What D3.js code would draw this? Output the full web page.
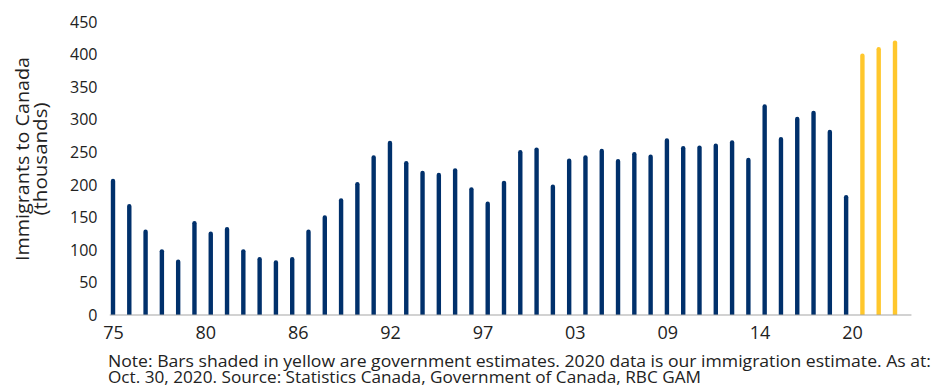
<!DOCTYPE html>
<html>
<head>
<meta charset="utf-8">
<script src="https://cdn.jsdelivr.net/npm/d3@7"></script>
<style>
  html, body { margin: 0; padding: 0; background: #fff; }
  svg { display: block; }
  text { font-family: "Open Sans", "Noto Sans", sans-serif; fill: #222; }
</style>
</head>
<body>
<svg id="chart" width="946" height="388"></svg>
<script>
// Annual immigrants to Canada, thousands (1975-2023; last three are government plan levels)
const years = d3.range(1975, 2024);
const immigrants = [
  209, 170, 131, 101, 85, 144, 128, 135, 101, 89,
  84, 89, 131, 153, 179, 204, 245, 267, 236, 221,
  218, 225, 196, 174, 206, 253, 257, 200, 240, 245,
  255, 239, 250, 246, 271, 259, 260, 263, 268, 241,
  323, 273, 304, 313, 284, 184, 401, 411, 421
];
const estimateYears = [2021, 2022, 2023];

const xTickLabels = ["75", "80", "86", "92", "97", "03", "09", "14", "20"];
const yTicks = [0, 50, 100, 150, 200, 250, 300, 350, 400, 450];

const navy = "#00306B";
const gold = "#FFC72C";

const svg = d3.select("#chart");

const x = d3.scaleLinear().domain([1975, 2023]).range([113, 895]);
const y = d3.scaleLinear().domain([0, 450]).range([315, 21.5]);

// Category labels sit on an even grid spanning 1975 to just past 2020
const labelStep = 5.67;
const labelPos = xTickLabels.map((d, i) => 1975 + i * labelStep);

// y tick labels (no axis line)
const yAxis = d3.axisLeft(y).tickValues(yTicks).tickSize(0).tickPadding(0).tickFormat(d3.format("d"));
const gy = svg.append("g").attr("transform", "translate(97.5,0)").call(yAxis);
gy.select(".domain").remove();
gy.selectAll("text")
  .attr("font-family", "'Open Sans', sans-serif")
  .attr("font-size", 16)
  .attr("fill", "#222")
  .attr("dy", "0.35em");

// bars with rounded tops
const bw = 4.4, r = bw / 2;
svg.append("g").selectAll("path")
  .data(years.map((yr, i) => ({ yr, v: immigrants[i] })))
  .join("path")
  .attr("fill", d => estimateYears.includes(d.yr) ? gold : navy)
  .attr("d", d => {
    const cx = x(d.yr), x0 = cx - r, x1 = cx + r;
    const top = y(d.v), base = y(0);
    return `M${x0},${base}V${top + r}A${r},${r} 0 0 1 ${x1},${top + r}V${base}Z`;
  });

// baseline
svg.append("line")
  .attr("x1", x(1974.8)).attr("x2", x(2024.01))
  .attr("y1", y(0)).attr("y2", y(0))
  .attr("stroke", "#A6A6A6").attr("stroke-width", 1.2);

// x labels
const xAxis = d3.axisBottom(x).tickValues(labelPos).tickSize(0).tickPadding(0)
  .tickFormat((d, i) => xTickLabels[i]);
const gx = svg.append("g").attr("transform", `translate(0,${y(0)})`).call(xAxis);
gx.select(".domain").remove();
gx.selectAll("text")
  .attr("font-family", "'Open Sans', sans-serif")
  .attr("font-size", 18)
  .attr("fill", "#222")
  .attr("y", 0)
  .attr("dy", 23.5);

// y axis title
const title = svg.append("g").attr("transform", "translate(0,159) rotate(-90)");
title.append("text")
  .attr("x", 0).attr("y", 29)
  .attr("text-anchor", "middle")
  .attr("font-size", 18)
  .attr("textLength", 204).attr("lengthAdjust", "spacingAndGlyphs")
  .text("Immigrants to Canada");
title.append("text")
  .attr("x", 0).attr("y", 47)
  .attr("text-anchor", "middle")
  .attr("font-size", 18)
  .attr("textLength", 113).attr("lengthAdjust", "spacingAndGlyphs")
  .text("(thousands)");

// footnote: one text block wrapped onto two lines
const notes = [
  { t: "Note: Bars shaded in yellow are government estimates. 2020 data is our immigration estimate. As at:", w: 823 },
  { t: "Oct. 30, 2020. Source: Statistics Canada, Government of Canada, RBC GAM", w: 593 }
];
const note = svg.append("text")
  .attr("x", 108)
  .attr("y", 366.6)
  .attr("font-size", 15.5);
note.selectAll("tspan")
  .data(notes)
  .join("tspan")
  .attr("x", 108)
  .attr("dy", (d, i) => i === 0 ? 0 : 16.6)
  .attr("textLength", d => d.w).attr("lengthAdjust", "spacingAndGlyphs")
  .text(d => d.t);
</script>
</body>
</html>
